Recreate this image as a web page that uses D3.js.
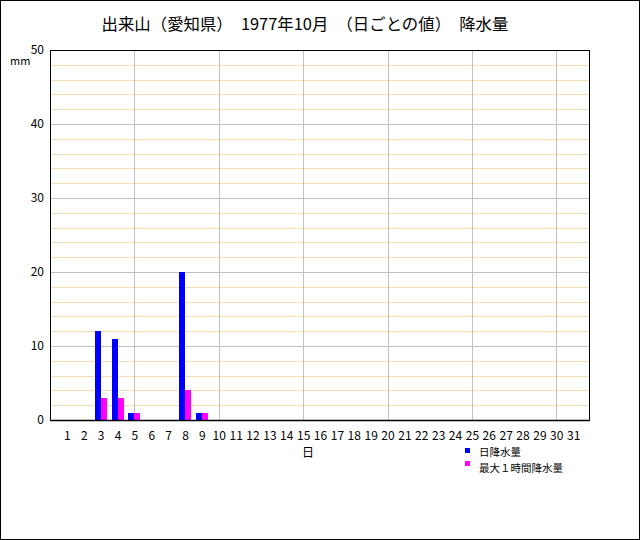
<!DOCTYPE html>
<html>
<head>
<meta charset="utf-8">
<script src="https://cdn.jsdelivr.net/npm/d3@7/dist/d3.min.js"></script>
<style>
html,body{margin:0;padding:0;background:#fff;}
svg{display:block;font-family:"Noto Sans CJK JP","Noto Sans",sans-serif;}
</style>
</head>
<body>
<svg id="chart" width="640" height="540"></svg>
<script>
const titleText = "出来山（愛知県）　1977年10月　（日ごとの値）　降水量";
const days = d3.range(1, 32);
const dailyPrecip = [0,0,12,11,1,0,0,20,1,0,0,0,0,0,0,0,0,0,0,0,0,0,0,0,0,0,0,0,0,0,0];
const maxHourlyPrecip = [0,0,3,3,1,0,0,4,1,0,0,0,0,0,0,0,0,0,0,0,0,0,0,0,0,0,0,0,0,0,0];
const yTicks = [0,10,20,30,40,50];
const yMinorTicks = [2,4,6,8,12,14,16,18,22,24,26,28,32,34,36,38,42,44,46,48];
const xGridDays = [5,10,15,20,25,30];
const seriesNames = ["日降水量","最大１時間降水量"];
const seriesColors = ["#0000ff","#ff00ff"];
const yUnit = "mm";
const xTitle = "日";

const svg = d3.select("#chart");
const pL = 50, pR = 590, pT = 50, pB = 420;
const x = d3.scaleLinear().domain([0, 32]).range([pL, pR]);
const y = d3.scaleLinear().domain([0, 50]).range([pB, pT]);

// outer border
svg.append("rect").attr("x",0.5).attr("y",0.5).attr("width",639).attr("height",539)
  .attr("fill","none").attr("stroke","#000");

// title
svg.append("text").attr("x",305).attr("y",30).attr("text-anchor","middle")
  .attr("font-size",16.4).style("white-space","pre").text(titleText);

// minor grid
svg.append("g").selectAll("line").data(yMinorTicks).join("line")
  .attr("x1",pL).attr("x2",pR).attr("y1",d=>Math.round(y(d))+0.5).attr("y2",d=>Math.round(y(d))+0.5)
  .attr("stroke","#f5deb3").attr("stroke-width",1);
// major grid
svg.append("g").selectAll("line").data(yTicks.filter(d=>d>0&&d<50)).join("line")
  .attr("x1",pL).attr("x2",pR).attr("y1",d=>Math.round(y(d))+0.5).attr("y2",d=>Math.round(y(d))+0.5)
  .attr("stroke","#c0c0c0").attr("stroke-width",1);
svg.append("g").selectAll("line").data(xGridDays).join("line")
  .attr("x1",d=>Math.round(x(d))+0.5).attr("x2",d=>Math.round(x(d))+0.5).attr("y1",pT).attr("y2",pB)
  .attr("stroke","#c0c0c0").attr("stroke-width",1);

// bars
const bw = 6;
const barData = [dailyPrecip, maxHourlyPrecip];
barData.forEach((vals, si) => {
  svg.append("g").selectAll("rect").data(days.map((d,i)=>({d, v: vals[i]})).filter(o=>o.v>0)).join("rect")
    .attr("x", o => Math.round(x(o.d)) - bw + si*bw)
    .attr("y", o => Math.round(y(o.v)))
    .attr("width", bw)
    .attr("height", o => pB - Math.round(y(o.v)))
    .attr("fill", seriesColors[si]);
});

// plot frame
svg.append("rect").attr("x",pL+0.5).attr("y",pT+0.5).attr("width",pR-pL-1).attr("height",pB-pT)
  .attr("fill","none").attr("stroke","#000").attr("stroke-width",1);
svg.append("line").attr("x1",pL).attr("x2",pR).attr("y1",pB+0.5).attr("y2",pB+0.5)
  .attr("stroke","#000").attr("stroke-width",1.5);

// y axis labels
const yAxis = d3.axisLeft(y).tickValues(yTicks).tickSize(0).tickPadding(6);
const gy = svg.append("g").attr("transform",`translate(${pL},0)`).call(yAxis);
gy.select(".domain").remove();
gy.selectAll("text").attr("font-size",12).attr("fill","#000").style("font-family","'Noto Sans CJK JP',sans-serif");

svg.append("text").attr("x",10).attr("y",65).attr("font-size",11).text(yUnit);

// x axis labels
const xAxis = d3.axisBottom(x).tickValues(days).tickSize(0).tickPadding(11);
const gx = svg.append("g").attr("transform",`translate(0,${pB})`).call(xAxis);
gx.select(".domain").remove();
gx.selectAll("text").attr("font-size",12).attr("fill","#000").style("font-family","'Noto Sans CJK JP',sans-serif");

svg.append("text").attr("x",308).attr("y",457).attr("text-anchor","middle").attr("font-size",12).text(xTitle);

// legend
seriesNames.forEach((n,i)=>{
  svg.append("rect").attr("x",465).attr("y",448+i*13).attr("width",5).attr("height",5).attr("fill",seriesColors[i]);
});
const legText = svg.append("text").attr("font-size",10.5);
seriesNames.forEach((n,i)=>{
  legText.append("tspan").attr("x",479).attr("y",456+i*15.5).text(n);
});
</script>
</body>
</html>
